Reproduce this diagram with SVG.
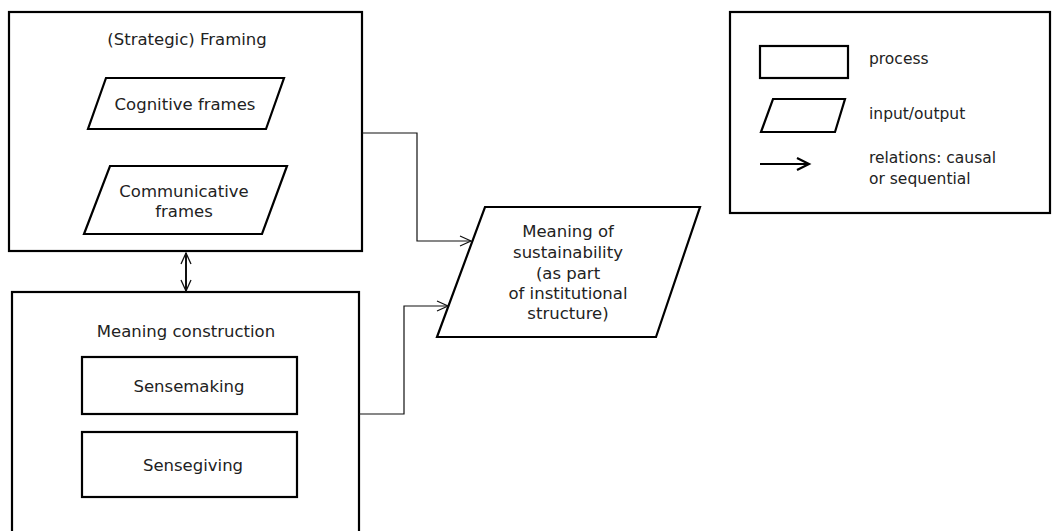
<svg xmlns="http://www.w3.org/2000/svg" width="1059" height="531" viewBox="0 0 1059 531">
<style>
.box{fill:#fff;stroke:#000;stroke-width:2.2}
.inner{fill:#fff;stroke:#000;stroke-width:2.2}
.t{font-family:"DejaVu Sans",sans-serif;font-size:16.5px;fill:#222;text-anchor:middle}
.lt{font-family:"DejaVu Sans",sans-serif;font-size:15.5px;fill:#222}
.conn{fill:none;stroke:#111;stroke-width:1.2}
</style>
<defs>
<marker id="open" markerWidth="14" markerHeight="12" refX="12" refY="6" orient="auto" markerUnits="userSpaceOnUse">
<path d="M1,1 L12,6 L1,11" fill="none" stroke="#111" stroke-width="1.2"/>
</marker>
<marker id="openDouble" markerWidth="14" markerHeight="12" refX="12" refY="6" orient="auto-start-reverse" markerUnits="userSpaceOnUse">
<path d="M1,1 L12,6 L1,11" fill="none" stroke="#111" stroke-width="1.3"/>
</marker>
<marker id="openBold" markerWidth="16" markerHeight="14" refX="13" refY="7" orient="auto" markerUnits="userSpaceOnUse">
<path d="M1,1 L13,7 L1,13" fill="none" stroke="#000" stroke-width="2.2"/>
</marker>
</defs>
<rect x="0" y="0" width="1059" height="531" fill="#fff"/>

<g id="framing">
<rect class="box" x="9" y="12" width="353" height="239"/>
<text class="t" x="187" y="45">(Strategic) Framing</text>
</g>
<g id="cognitive">
<polygon class="inner" points="106,78 284,78 266,129 88,129"/>
<text class="t" x="185" y="110">Cognitive frames</text>
</g>
<g id="communicative">
<polygon class="inner" points="110,166 287,166 262,234 84,234"/>
<text class="t" x="184" y="197">Communicative</text>
<text class="t" x="184" y="217">frames</text>
</g>
<g id="meaningconstruction">
<rect class="box" x="12" y="292" width="347" height="250"/>
<text class="t" x="186" y="337">Meaning construction</text>
</g>
<g id="sensemaking">
<rect class="inner" x="82" y="357" width="215" height="57"/>
<text class="t" x="189" y="392">Sensemaking</text>
</g>
<g id="sensegiving">
<rect class="inner" x="82" y="432" width="215" height="65"/>
<text class="t" x="193" y="471">Sensegiving</text>
</g>
<g id="meaning">
<polygon class="inner" points="485,207 700,207 656,337 437,337"/>
<text class="t" x="568" y="237">Meaning of</text>
<text class="t" x="568" y="258">sustainability</text>
<text class="t" x="568" y="279">(as part</text>
<text class="t" x="568" y="299">of institutional</text>
<text class="t" x="568" y="319">structure)</text>
</g>
<g id="legend">
<rect class="box" x="730" y="12" width="320" height="201"/>
<rect class="inner" x="760" y="46" width="88" height="32"/>
<text class="lt" x="869" y="64">process</text>
<polygon class="inner" points="773,99 845,99 835,132 761,132"/>
<text class="lt" x="869" y="119">input/output</text>
<line x1="760" y1="164" x2="809" y2="164" stroke="#000" stroke-width="2.2" marker-end="url(#openBold)"/>
<text class="lt" x="869" y="163">relations: causal</text>
<text class="lt" x="869" y="184">or sequential</text>
</g>
<g id="connectors">
<polyline class="conn" points="362,133 417,133 417,241 471,241" marker-end="url(#open)"/>
<polyline class="conn" points="359,414 404,414 404,306 448,306" marker-end="url(#open)"/>
<line x1="186" y1="253" x2="186" y2="291" stroke="#111" stroke-width="2" marker-start="url(#openDouble)" marker-end="url(#openDouble)"/>
</g>
</svg>
